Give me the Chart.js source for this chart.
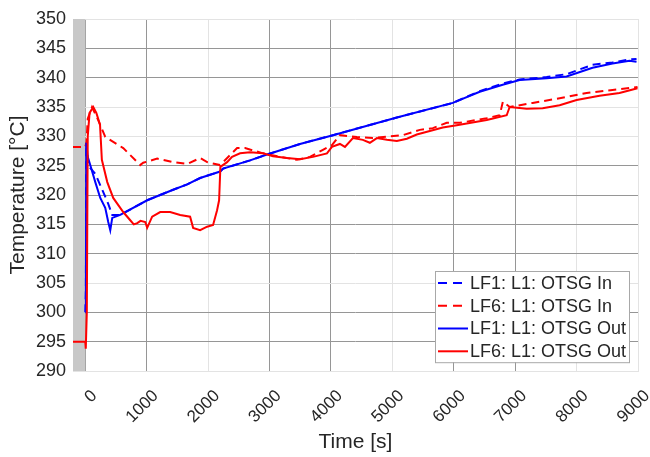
<!DOCTYPE html>
<html>
<head>
<meta charset="utf-8">
<script src="https://cdn.jsdelivr.net/npm/chart.js@4/dist/chart.umd.min.js"></script>
<style>
  html, body { margin: 0; padding: 0; background: #ffffff; }
  #wrap { width: 650px; height: 457px; }
</style>
</head>
<body>
<div id="wrap"><canvas id="chart" width="650" height="457"></canvas></div>
<script>
// Axis ticks
const xTickValues = [0, 1000, 2000, 3000, 4000, 5000, 6000, 7000, 8000, 9000];
const yTickValues = [290, 295, 300, 305, 310, 315, 320, 325, 330, 335, 340, 345, 350];

// Pre-transient window (shaded) in seconds
const shadeStart = -200;
const shadeEnd = 0;

// LF1: L1: OTSG In
const lf1InTime = [0, 10, 16, 50, 163, 276, 374, 439, 569, 1008, 1431, 1659, 1870, 2195, 2244, 2683, 2959, 3496, 4033, 5073, 5984, 6423, 6797, 7073, 7512, 7837, 8260, 8585, 8862, 8976];
const lf1InTemp = [300, 304, 328.9, 325.0, 323.6, 320.9, 318.5, 316.6, 316.6, 319.1, 320.9, 321.8, 322.9, 324.0, 324.5, 325.9, 326.9, 328.7, 330.2, 333.2, 335.7, 337.7, 339.0, 339.7, 340.1, 340.6, 342.2, 342.6, 343.1, 343.2];

// LF6: L1: OTSG In
const lf6InTime = [-200, 0, 20, 40, 110, 200, 325, 618, 894, 943, 1171, 1431, 1659, 1870, 1984, 2195, 2358, 2472, 2602, 2894, 3171, 3447, 3659, 3870, 4016, 4146, 4423, 4683, 5171, 5447, 5659, 5886, 6098, 6537, 6748, 6800, 6911, 7285, 7724, 8163, 8585, 8992];
const lf6InTemp = [328.2, 328.2, 329.0, 333.0, 335.0, 333.0, 329.9, 328.0, 325.1, 325.5, 326.2, 325.6, 325.3, 326.3, 325.6, 325.1, 326.8, 328.0, 328.0, 327.1, 326.5, 326.0, 326.5, 327.7, 328.5, 330.2, 329.9, 329.7, 330.2, 331.1, 331.4, 332.3, 332.3, 333.1, 333.6, 335.9, 335.0, 335.7, 336.5, 337.4, 337.9, 338.4];

// LF1: L1: OTSG Out
const lf1OutTime = [0, 10, 16, 40, 81, 163, 244, 325, 374, 407, 439, 569, 1008, 1431, 1659, 1870, 2195, 2244, 2683, 2959, 3496, 4033, 5073, 5984, 6423, 6797, 7073, 7512, 7837, 8260, 8585, 8862, 8976];
const lf1OutTemp = [300, 304, 328.9, 326.5, 325.1, 322.2, 319.5, 317.8, 315.4, 314.0, 316.1, 316.6, 319.1, 320.9, 321.8, 322.9, 324.0, 324.5, 325.9, 326.9, 328.7, 330.2, 333.2, 335.7, 337.6, 338.8, 339.6, 339.9, 340.2, 341.7, 342.4, 342.9, 342.7];

// LF6: L1: OTSG Out
const lf6OutTime = [-200, 0, 8, 25, 40, 70, 130, 180, 240, 270, 358, 455, 618, 732, 790, 846, 900, 976, 1008, 1089, 1220, 1382, 1545, 1707, 1756, 1870, 1984, 2081, 2146, 2179, 2200, 2309, 2390, 2520, 2683, 2894, 3057, 3285, 3496, 3707, 3935, 4016, 4146, 4228, 4358, 4520, 4634, 4748, 4911, 5073, 5236, 5398, 5610, 5821, 6049, 6211, 6537, 6862, 6910, 6992, 7187, 7447, 7724, 8000, 8374, 8699, 8992];
const lf6OutTemp = [295, 295, 293.8, 300, 330, 334, 335, 334, 332, 326, 322.2, 319.5, 317.1, 315.7, 315.0, 315.2, 315.6, 315.4, 314.4, 316.3, 317.1, 317.1, 316.6, 316.3, 314.4, 314.0, 314.6, 314.9, 317.4, 319.1, 324.8, 325.6, 326.5, 327.1, 327.3, 327.1, 326.6, 326.3, 326.1, 326.5, 327.1, 328.2, 328.7, 328.2, 329.7, 329.4, 328.9, 329.7, 329.4, 329.2, 329.6, 330.3, 330.9, 331.5, 331.9, 332.2, 332.8, 333.6, 335.0, 334.9, 334.7, 334.8, 335.3, 336.2, 336.9, 337.4, 338.2];

const toPoints = (ts, vs) => ts.map((t, i) => ({ x: t, y: vs[i] }));

const FONT = "'Liberation Sans', Arial, Helvetica, sans-serif";
const TEXT = '#262626';
const GRID_DARK = '#969696';
const GRID_LIGHT = '#e3e3e3';
// grid lines drawn faint at these values, the rest darker
const xLightLines = [2000, 5000, 8000, 9000];
const yLightLines = [290, 305, 330, 335, 350];

// Shaded pre-transient band, drawn under the curves
const shadePlugin = {
  id: 'shade',
  beforeDatasetsDraw(chart) {
    const { ctx, chartArea, scales } = chart;
    const x0 = scales.x.getPixelForValue(shadeStart);
    const x1 = scales.x.getPixelForValue(shadeEnd);
    ctx.save();
    ctx.fillStyle = '#c8c8c8';
    ctx.fillRect(x0, chartArea.top, x1 - x0, chartArea.bottom - chartArea.top);
    ctx.restore();
  }
};

// Boxed legend inside the lower right of the plot
const boxLegendPlugin = {
  id: 'boxLegend',
  afterDatasetsDraw(chart) {
    const { ctx } = chart;
    const left = 435, top = 271, width = 194, rowH = 22.8;
    const n = chart.data.datasets.length;
    ctx.save();
    ctx.fillStyle = '#ffffff';
    ctx.fillRect(left, top, width, rowH * n);
    ctx.strokeStyle = '#a8a8a8';
    ctx.lineWidth = 1;
    ctx.strokeRect(left + 0.5, top + 0.5, width, rowH * n);
    ctx.font = '18px ' + FONT;
    ctx.textBaseline = 'middle';
    ctx.fillStyle = TEXT;
    chart.data.datasets.forEach((ds, i) => {
      const y = top + rowH * (i + 0.5) + 0.5;
      ctx.strokeStyle = ds.borderColor;
      ctx.lineWidth = 2;
      ctx.setLineDash(ds.borderDash && ds.borderDash.length ? [9, 6] : []);
      ctx.beginPath();
      ctx.moveTo(left + 3, y);
      ctx.lineTo(left + 33, y);
      ctx.stroke();
      ctx.setLineDash([]);
      ctx.fillText(ds.label, left + 35, y + 1);
    });
    ctx.restore();
  }
};

const lineDefaults = { showLine: true, pointRadius: 0, borderWidth: 2, tension: 0, fill: false };

new Chart(document.getElementById('chart'), {
  type: 'scatter',
  data: {
    datasets: [
      { ...lineDefaults, label: 'LF1: L1: OTSG In', data: toPoints(lf1InTime, lf1InTemp), borderColor: '#0000ff', borderDash: [8, 5], order: 4 },
      { ...lineDefaults, label: 'LF6: L1: OTSG In', data: toPoints(lf6InTime, lf6InTemp), borderColor: '#ff0000', borderDash: [8, 5], order: 3 },
      { ...lineDefaults, label: 'LF1: L1: OTSG Out', data: toPoints(lf1OutTime, lf1OutTemp), borderColor: '#0000ff', order: 2 },
      { ...lineDefaults, label: 'LF6: L1: OTSG Out', data: toPoints(lf6OutTime, lf6OutTemp), borderColor: '#ff0000', order: 1 }
    ]
  },
  options: {
    responsive: false,
    animation: false,
    devicePixelRatio: 1,
    layout: { padding: { left: 0, top: 19, right: 12, bottom: 0 } },
    plugins: { legend: { display: false }, tooltip: { enabled: false } },
    scales: {
      x: {
        type: 'linear',
        min: -200,
        max: 9000,
        afterBuildTicks(scale) { scale.ticks = xTickValues.map(v => ({ value: v })); },
        afterFit(scale) {
          scale.height = 86;
          scale.paddingLeft = 0;
          scale.paddingRight = 0;
        },
        grid: {
          drawTicks: false,
          lineWidth: 1,
          color: c => (c.tick && xLightLines.includes(c.tick.value)) ? GRID_LIGHT : GRID_DARK
        },
        border: { display: true, color: GRID_LIGHT },
        ticks: {
          autoSkip: false,
          minRotation: 45,
          maxRotation: 45,
          padding: 15,
          labelOffset: 9,
          color: TEXT,
          font: { family: FONT, size: 17 },
          callback: v => String(v)
        },
        title: {
          display: true,
          text: 'Time [s]',
          color: TEXT,
          font: { family: FONT, size: 21 },
          padding: { top: 0, bottom: 2 }
        }
      },
      y: {
        type: 'linear',
        min: 290,
        max: 350,
        afterBuildTicks(scale) { scale.ticks = yTickValues.map(v => ({ value: v })); },
        afterFit(scale) {
          scale.width = 73;
          scale.paddingTop = 0;
          scale.paddingBottom = 0;
        },
        grid: {
          drawTicks: false,
          lineWidth: 1,
          color: c => (c.tick && yLightLines.includes(c.tick.value)) ? GRID_LIGHT : GRID_DARK
        },
        border: { display: false },
        ticks: {
          padding: 7,
          color: TEXT,
          font: { family: FONT, size: 18 },
          callback: v => String(v)
        },
        title: {
          display: true,
          text: 'Temperature [°C]',
          color: TEXT,
          font: { family: FONT, size: 21 },
          padding: { top: 6, bottom: 0 }
        }
      }
    }
  },
  plugins: [shadePlugin, boxLegendPlugin]
});
</script>
</body>
</html>
